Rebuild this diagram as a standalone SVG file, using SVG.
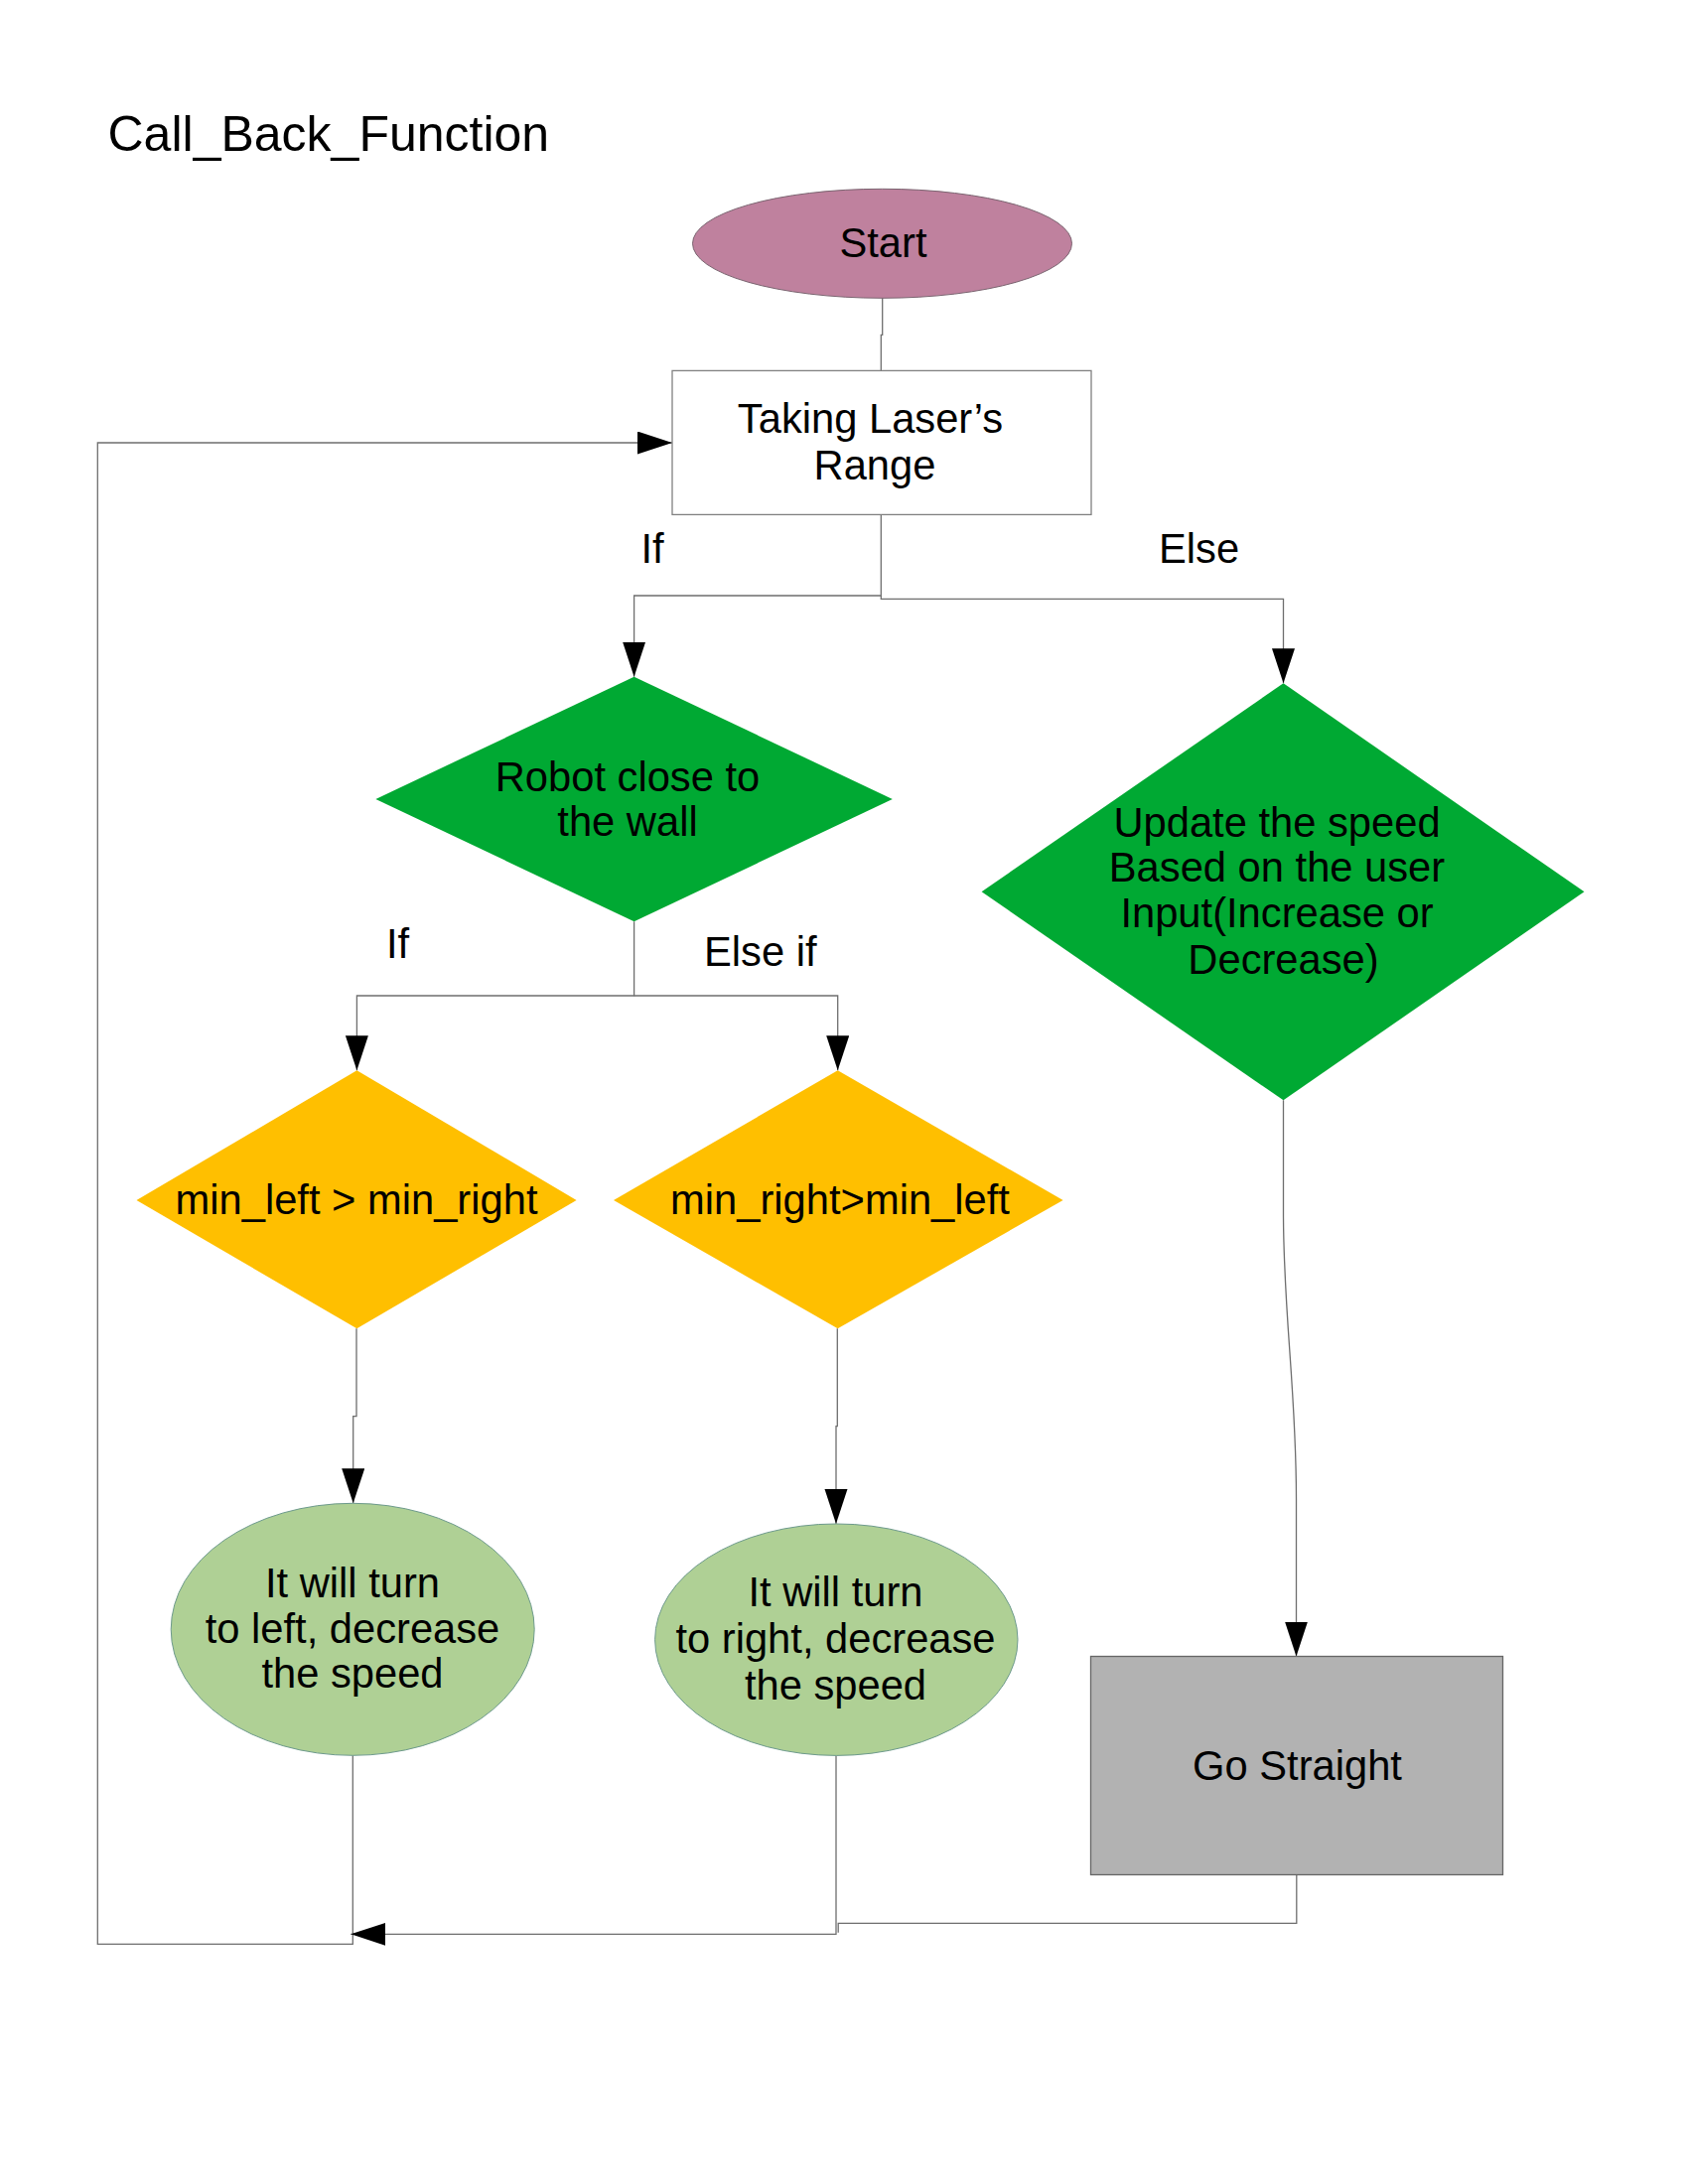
<svg xmlns="http://www.w3.org/2000/svg" width="1700" height="2200" viewBox="0 0 1700 2200">
  <style>
    text { font-family: "Liberation Sans", Arial, sans-serif; font-size: 41.7px; fill: #000; }
    .c { text-anchor: middle; }
    .title { font-size: 50px; }
    .wire { fill: none; stroke: #6e6e6e; stroke-width: 1.3; }
    .arrow { marker-end: url(#head); }
  </style>
  <defs>
    <marker id="head" markerUnits="userSpaceOnUse" markerWidth="36" markerHeight="24" refX="35" refY="11.5" orient="auto">
      <path d="M0,0 L35,11.5 L0,23 Z" fill="#000"/>
    </marker>
  </defs>

  <rect x="0" y="0" width="1700" height="2200" fill="#fff"/>

  <text class="title" x="108.5" y="152">Call_Back_Function</text>

  <!-- connectors -->
  <g id="connectors">
    <path class="wire" d="M888.7,300 V337.3 H887.3 V373.4"/>
    <path class="wire arrow" d="M887.3,518.4 V600 H638.6 V681.7"/>
    <path class="wire arrow" d="M887.3,600 V603.3 H1292.5 V688.3"/>
    <path class="wire arrow" d="M638.6,928.3 V1003 H359.4 V1078.3"/>
    <path class="wire arrow" d="M638.6,1003 H843.7 V1078.3"/>
    <path class="wire arrow" d="M359,1338.3 V1426.7 H355.7 V1514.3"/>
    <path class="wire arrow" d="M843.3,1338.3 V1436.7 H842 V1535"/>
    <path class="wire arrow" d="M1292.5,1108.3 V1225 C1293,1330 1305.5,1400 1305.5,1510 V1668.5"/>
    <path class="wire arrow" d="M355.3,1768.3 V1958.3 H98.3 V446 H677"/>
    <path class="wire arrow" d="M842,1768.3 V1948.3 H353.3"/>
    <path class="wire" d="M1305.8,1888.5 V1937.3 H844.2 V1946.7"/>
  </g>

  <!-- connector labels -->
  <text x="645.5" y="567">If</text>
  <text x="1167" y="567">Else</text>
  <text x="389" y="965">If</text>
  <text x="709" y="973">Else if</text>

  <g id="start">
    <ellipse cx="888.5" cy="245.3" rx="191" ry="55" fill="#bf819e" stroke="#7a6470" stroke-width="1"/>
    <text class="c" x="889.5" y="259">Start</text>
  </g>

  <g id="laser-range">
    <rect x="677" y="373.4" width="422" height="145" fill="#fff" stroke="#808080" stroke-width="1.3"/>
    <text class="c" x="876.5" y="436.4">Taking Laser’s</text>
    <text class="c" x="881" y="483">Range</text>
  </g>

  <g id="close-to-wall">
    <polygon points="638.6,681.7 898.8,805 638.6,928.3 378.4,805" fill="#00a933"/>
    <text class="c" x="632" y="796.7">Robot close to</text>
    <text class="c" x="632" y="842.3">the wall</text>
  </g>

  <g id="update-speed">
    <polygon points="1292.5,688.3 1595.5,898.3 1292.5,1108.3 988.6,898.3" fill="#00a933"/>
    <text class="c" x="1286" y="842.7">Update the speed</text>
    <text class="c" x="1286" y="888.3">Based on the user</text>
    <text class="c" x="1286" y="934.3">Input(Increase or</text>
    <text class="c" x="1292.5" y="980.7">Decrease)</text>
  </g>

  <g id="left-greater">
    <polygon points="359.4,1078.3 580.6,1209 359.4,1338.3 137.5,1209" fill="#ffbf00"/>
    <text class="c" x="359" y="1222.7">min_left &gt; min_right</text>
  </g>

  <g id="right-greater">
    <polygon points="843.7,1078.3 1070.6,1209 843.7,1338.3 618,1209" fill="#ffbf00"/>
    <text class="c" x="846" y="1222.7">min_right&gt;min_left</text>
  </g>

  <g id="turn-left">
    <ellipse cx="355.2" cy="1641.3" rx="183" ry="127" fill="#afd095" stroke="#6d9a8c" stroke-width="1"/>
    <text class="c" x="355" y="1609.3">It will turn</text>
    <text class="c" x="355" y="1655">to left, decrease</text>
    <text class="c" x="355" y="1700">the speed</text>
  </g>

  <g id="turn-right">
    <ellipse cx="842.3" cy="1651.7" rx="182.7" ry="116.7" fill="#afd095" stroke="#6d9a8c" stroke-width="1"/>
    <text class="c" x="841.5" y="1618.3">It will turn</text>
    <text class="c" x="841.5" y="1665">to right, decrease</text>
    <text class="c" x="841.5" y="1711.7">the speed</text>
  </g>

  <g id="go-straight">
    <rect x="1098.5" y="1668.5" width="415" height="220" fill="#b2b2b2" stroke="#666" stroke-width="1.3"/>
    <text class="c" x="1306.5" y="1792.8">Go Straight</text>
  </g>
</svg>
